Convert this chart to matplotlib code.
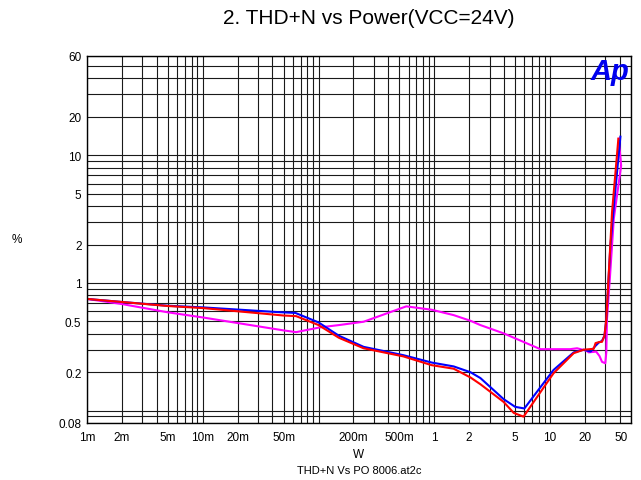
import numpy as np
import matplotlib
matplotlib.use('Agg')
import matplotlib.pyplot as plt
from matplotlib.ticker import FixedLocator, LogLocator, NullFormatter
from matplotlib.transforms import ScaledTranslation

plt.rcParams['font.family'] = ['Liberation Sans', 'DejaVu Sans']

# values (W, %)
blue_w = [0.001, 0.002, 0.005, 0.01, 0.0465, 0.063, 0.1, 0.15, 0.245, 0.54, 0.95, 1.47,
          2.05, 2.5, 3.97, 5.0, 6.0, 8.0, 10.7, 16, 19.5, 22.4, 24.7, 26.4, 28.1, 29.5,
          30.6, 33.2, 36.6, 40.5]
blue_thd = [0.75, 0.71, 0.663, 0.644, 0.59, 0.583, 0.491, 0.386, 0.316, 0.272, 0.238, 0.222,
            0.2, 0.18, 0.123, 0.107, 0.104, 0.147, 0.208, 0.286, 0.3, 0.29, 0.322, 0.342, 0.352,
            0.386, 0.52, 1.96, 5.3, 14]

red_w = [0.001, 0.002, 0.005, 0.01, 0.05, 0.064, 0.1, 0.15, 0.245, 0.54, 0.95, 1.47,
         2.05, 2.5, 3.97, 4.85, 5.9, 8.0, 10.7, 16, 19.5, 23.8, 24.7, 26.4, 28.1, 29.5,
         30.6, 34.3, 38.9]
red_thd = [0.75, 0.71, 0.66, 0.636, 0.556, 0.55, 0.468, 0.372, 0.308, 0.266, 0.227, 0.213,
           0.182, 0.161, 0.117, 0.096, 0.0897, 0.134, 0.196, 0.282, 0.3, 0.305, 0.338, 0.344,
           0.346, 0.386, 0.52, 3.6, 13.5]

magenta_w = [0.001, 0.002, 0.005, 0.01, 0.05, 0.064, 0.103, 0.15, 0.245, 0.573, 0.95, 1.47,
             2.05, 2.5, 3.97, 8.25, 14.9, 17.1, 20.8, 21.5, 25.0, 26.7, 28.1, 30.0, 30.6,
             31.0, 32.8, 35.5, 41.1, 39.2]
magenta_thd = [0.75, 0.684, 0.589, 0.537, 0.425, 0.412, 0.449, 0.468, 0.497, 0.656, 0.617, 0.56,
               0.506, 0.468, 0.403, 0.303, 0.303, 0.308, 0.294, 0.286, 0.29, 0.268, 0.241, 0.235,
               0.287, 0.52, 1.07, 3.18, 8.3, 13.5]

x_ticks = [0.001, 0.002, 0.005, 0.01, 0.02, 0.05, 0.2, 0.5, 1, 2, 5, 10, 20, 50]
x_labels = ['1m', '2m', '5m', '10m', '20m', '50m', '200m', '500m', '1', '2', '5', '10', '20', '50']
y_ticks = [0.08, 0.2, 0.5, 1, 2, 5, 10, 20, 60]
y_labels = ['0.08', '0.2', '0.5', '1', '2', '5', '10', '20', '60']

fig = plt.figure(figsize=(6.41, 4.81), dpi=100)
ax = fig.add_axes([87 / 641, 1 - 424 / 481, 544 / 641, 367 / 481])

ax.set_xscale('log')
ax.set_yscale('log')
ax.set_xlim(0.001, 50)
ax.set_ylim(0.08, 60)

# full log grid, labels only on chosen values
ax.xaxis.set_major_locator(FixedLocator(x_ticks))
ax.set_xticklabels(x_labels)
ax.yaxis.set_major_locator(FixedLocator(y_ticks))
ax.set_yticklabels(y_labels)
for axis in (ax.xaxis, ax.yaxis):
    axis.set_minor_locator(LogLocator(base=10, subs=np.arange(1, 10), numticks=50))
    axis.set_minor_formatter(NullFormatter())
ax.grid(True, which='both', color='0.1', lw=0.8)
ax.tick_params(which='both', length=0, labelsize=8.5, colors='black')
ax.tick_params(axis='x', pad=6)
ax.tick_params(axis='y', pad=4)
for s in ax.spines.values():
    s.set_color('black')
    s.set_linewidth(1.0)

# last x label sits a bit inside the frame, as in the reference
lbl = ax.get_xticklabels()[-1]
lbl.set_transform(lbl.get_transform() + ScaledTranslation(-10 / 100, 0, fig.dpi_scale_trans))

ax.plot(magenta_w, magenta_thd, color='#ff00ff', lw=1.5)
ax.plot(blue_w, blue_thd, color='#0000ff', lw=1.5)
ax.plot(red_w, red_thd, color='#ff0000', lw=1.5)

fig.text(369 / 641, 1 - 19 / 481, '2. THD+N vs Power(VCC=24V)', ha='center', va='center',
         fontsize=15)
fig.text(17 / 641, 1 - 240 / 481, '%', ha='center', va='center', fontsize=8.5)
fig.text(359 / 641, 1 - 455 / 481, 'W', ha='center', va='center', fontsize=8.5)
fig.text(359 / 641, 1 - 471 / 481, 'THD+N Vs PO 8006.at2c', ha='center', va='center',
         fontsize=8)
fig.text(629 / 641, 1 - 58 / 481, 'Ap', ha='right', va='top', fontsize=21,
         fontweight='heavy', style='italic', color='#0000ee')

fig.savefig('out.png', dpi=100)
